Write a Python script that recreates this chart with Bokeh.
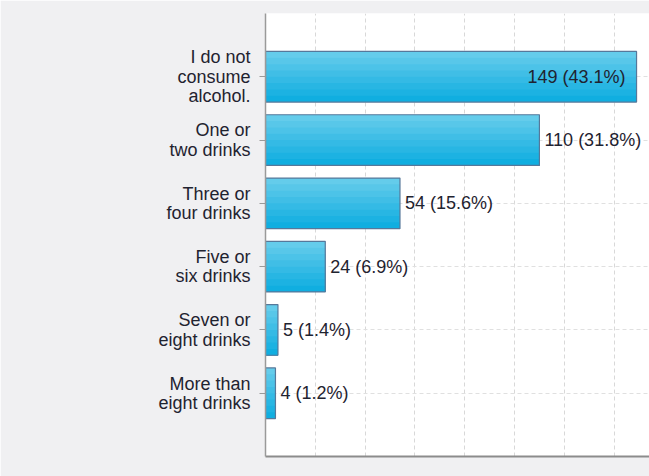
from bokeh.plotting import figure
from bokeh.models import ColumnDataSource, FactorRange, Range1d, FixedTicker, LinearAxis
from bokeh.core.properties import value
from bokeh.transform import dodge
from bokeh.embed import file_html
from bokeh.resources import INLINE

categories = ["I do not\nconsume\nalcohol.", "One or\ntwo drinks", "Three or\nfour drinks",
              "Five or\nsix drinks", "Seven or\neight drinks", "More than\neight drinks"]
counts = [149, 110, 54, 24, 5, 4]
percents = ["43.1%", "31.8%", "15.6%", "6.9%", "1.4%", "1.2%"]
grid_ticks = [20, 40, 60, 80, 100, 120, 140]

labels = [f"{c} ({p})" for c, p in zip(counts, percents)]
inside = [i == 0 for i in range(len(counts))]

bars = ColumnDataSource(dict(y=categories, x=counts))
src_out = ColumnDataSource(dict(
    y=[categories[i] for i in range(len(counts)) if not inside[i]],
    x=[counts[i] for i in range(len(counts)) if not inside[i]],
    t=[labels[i] for i in range(len(counts)) if not inside[i]]))
src_in = ColumnDataSource(dict(
    y=[categories[i] for i in range(len(counts)) if inside[i]],
    x=[counts[i] for i in range(len(counts)) if inside[i]],
    t=[labels[i] for i in range(len(counts)) if inside[i]]))

FONT = "Liberation Sans"
TXT = "#1f2330"

yr = FactorRange(factors=list(reversed(categories)), range_padding=0.5,
                 range_padding_units="absolute")
p = figure(width=649, height=476, y_range=yr, x_range=Range1d(0, 154.2),
           output_backend="svg", toolbar_location=None, x_axis_location=None,
           min_border_left=265, min_border_right=0, min_border_top=13, min_border_bottom=20)
p.border_fill_color = "#f0f0f2"
p.background_fill_color = "white"
p.outline_line_color = None

# vertical gradient (styling): each layer runs from its top edge to the bar bottom
stripe_cols = ["#64cceb", "#58c7e9", "#4cc3e8", "#40bee6", "#34bae5",
               "#28b6e3", "#1cb2e2", "#10aee0"]
n = len(stripe_cols)
h = 0.8 / n
for k, col in enumerate(stripe_cols):
    hk = 0.8 - h * k
    p.hbar(y=dodge("y", -h * k / 2, range=yr), right="x", left=0, height=hk, source=bars,
           fill_color=col, line_color=None)
p.hbar(y="y", right="x", left=0, height=0.8, source=bars,
       fill_color=None, line_color="#56789a", line_width=1.2)

p.text(x="x", y="y", text="t", source=src_out, x_offset=5,
       text_align="left", text_baseline="middle", text_font=value(FONT),
       text_font_size="18px", text_color=TXT)
p.text(x="x", y="y", text="t", source=src_in, x_offset=-11,
       text_align="right", text_baseline="middle", text_font=value(FONT),
       text_font_size="18px", text_color=TXT)

# bottom axis line only
bax = LinearAxis(ticker=FixedTicker(ticks=[]), major_label_text_font_size="0px",
                 axis_line_color="#8c8c8c", axis_line_width=2,
                 major_tick_line_color=None, minor_tick_line_color=None)
p.add_layout(bax, "below")

ya = p.yaxis[0]
ya.axis_line_color = "#9a9a9a"
ya.axis_line_width = 1.5
ya.major_tick_line_color = "#9a9a9a"
ya.major_tick_out = 6
ya.major_tick_in = 0
ya.major_label_standoff = 9
ya.major_label_text_font = FONT
ya.major_label_text_font_size = "18px"
ya.major_label_text_color = TXT
ya.major_label_text_line_height = 0.97

p.xgrid.ticker = FixedTicker(ticks=grid_ticks)
p.xgrid.grid_line_color = "#d8d8d8"
p.xgrid.grid_line_dash = "4 3"
p.ygrid.grid_line_color = "#e0e0e0"
p.ygrid.grid_line_dash = "4 3"

open("out.html", "w").write(file_html(p, INLINE))
